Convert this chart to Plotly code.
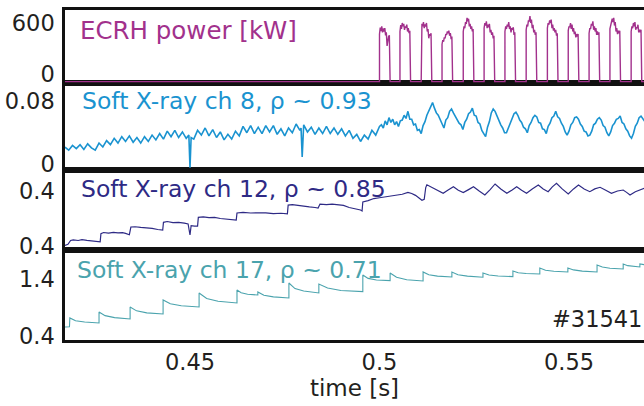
import plotly.graph_objects as go

# ---------------- data (time in seconds) ----------------
ecrh_t = [0.4170,
          .5000, .5000, .5002, .5004, .5006, .5008, .5010, .5012, .5014, .5016, .5018, .5020, .5022, .5024, .5026, .5028,
          .5054, .5054, .5056, .5058, .5060, .5062, .5064, .5066, .5068, .5070, .5072, .5074, .5076, .5078, .5080, .5082,
          .5110, .5110, .5112, .5114, .5116, .5118, .5120, .5122, .5124, .5126, .5128, .5130, .5132, .5134, .5136, .5138,
          .5165, .5165, .5167, .5169, .5171, .5173, .5175, .5177, .5179, .5181, .5183, .5185, .5187, .5189, .5191, .5193,
          .5221, .5221, .5223, .5225, .5227, .5229, .5231, .5233, .5235, .5237, .5239, .5241, .5243, .5245, .5247, .5249,
          .5276, .5276, .5278, .5280, .5282, .5284, .5286, .5288, .5290, .5292, .5294, .5296, .5298, .5300, .5302, .5304,
          .5331, .5331, .5333, .5335, .5337, .5339, .5341, .5343, .5345, .5347, .5349, .5351, .5353, .5355, .5357, .5359,
          .5387, .5387, .5389, .5391, .5393, .5395, .5397, .5399, .5401, .5403, .5405, .5407, .5409, .5411, .5413, .5415,
          .5443, .5443, .5445, .5447, .5449, .5451, .5453, .5455, .5457, .5459, .5461, .5463, .5465, .5467, .5469, .5471,
          .5498, .5498, .5500, .5502, .5504, .5506, .5508, .5510, .5512, .5514, .5516, .5518, .5520, .5522, .5524, .5526,
          .5553, .5553, .5555, .5557, .5559, .5561, .5563, .5565, .5567, .5569, .5571, .5573, .5575, .5577, .5579, .5581,
          .5608, .5608, .5610, .5612, .5614, .5616, .5618, .5620, .5622, .5624, .5626, .5628, .5630, .5632, .5634, .5636,
          .5664, .5664, .5666, .5668, .5670, .5672, .5674, .5676, .5678, .5680, .5682, .5684, .5686, .5688, .5690, .5692,
          0.5700]
ecrh_kw = [-90,
           -90, 470, 545, 505, 560, 490, 535, 500, 540, 455, 490, 330, 410, 440, 455, -90,
           -90, 500, 575, 530, 600, 560, 590, 520, 560, 545, 580, 500, 540, 480, 510, -90,
           -90, 520, 590, 560, 610, 540, 585, 560, 600, 500, 530, 420, 470, 450, 480, -90,
           -90, 350, 400, 380, 430, 420, 470, 460, 500, 480, 510, 450, 480, 410, 440, -90,
           -90, 500, 560, 540, 610, 590, 660, 620, 650, 560, 590, 530, 560, 500, 530, -90,
           -90, 540, 600, 570, 620, 540, 580, 550, 590, 490, 520, 460, 490, 420, 450, -90,
           -90, 500, 560, 530, 580, 560, 610, 530, 560, 490, 540, 520, 550, 460, 490, -90,
           -90, 520, 580, 560, 630, 620, 680, 600, 640, 540, 580, 490, 520, 460, 490, -90,
           -90, 540, 600, 580, 630, 600, 640, 540, 580, 510, 540, 490, 520, 450, 480, -90,
           -90, 510, 560, 550, 600, 530, 580, 500, 540, 470, 500, 430, 470, 440, 470, -90,
           -90, 480, 540, 530, 590, 570, 620, 520, 560, 500, 540, 460, 500, 460, 490, -90,
           -90, 530, 590, 590, 650, 610, 660, 570, 610, 500, 540, 470, 510, 480, 510, -90,
           -90, 500, 560, 540, 600, 560, 610, 520, 550, 540, 580, 490, 520, 490, 520, -90,
           -90]

ch8_t_ms = [417, 418, 419, 420, 421, 422, 423, 424, 425, 426, 427, 428, 429, 430, 431, 432,
            433, 434, 435, 436, 437, 438, 439, 440, 441, 442, 443, 444, 445, 446, 447, 448,
            449, 449.7, 450, 450.3, 451, 452, 453, 454, 455, 456, 457, 458, 459, 460, 461,
            462, 463, 464, 465, 466, 467, 468, 469, 470, 471, 472, 473, 474, 475, 476, 477,
            478, 479, 479.3, 479.6, 479.9, 480, 481, 482, 483, 484, 485, 486, 487, 488, 489,
            490, 491, 492, 493, 494, 495, 496, 497, 498, 499, 500,
            500.5, 501, 501.5, 502, 502.5, 503, 503.5, 504, 504.5, 505, 505.5, 506, 506.5,
            507, 507.5, 508, 508.5, 509, 509.5, 510, 510.5, 511, 511.5, 512, 512.5, 513,
            513.5, 514, 514.5, 515, 515.5, 516, 516.5, 517, 517.5, 518, 518.5, 519, 519.5,
            520, 520.5, 521, 521.5, 522, 522.5, 523, 523.5, 524, 524.5, 525, 525.5, 526,
            526.5, 527, 527.5, 528, 528.5, 529, 529.5, 530, 530.5, 531, 531.5, 532, 532.5,
            533, 533.5, 534, 534.5, 535, 535.5, 536, 536.5, 537, 537.5, 538, 538.5, 539,
            539.5, 540, 540.5, 541, 541.5, 542, 542.5, 543, 543.5, 544, 544.5, 545, 545.5,
            546, 546.5, 547, 547.5, 548, 548.5, 549, 549.5, 550, 550.5, 551, 551.5, 552,
            552.5, 553, 553.5, 554, 554.5, 555, 555.5, 556, 556.5, 557, 557.5, 558, 558.5,
            559, 559.5, 560, 560.5, 561, 561.5, 562, 562.5, 563, 563.5, 564, 564.5, 565,
            565.5, 566, 566.5, 567, 567.5, 568, 568.5, 569, 569.5, 570]
ch8_sig = [.022, .018, .024, .020, .025, .019, .026, .021, .018, .027, .022, .030, .025, .033, .027, .035,
           .029, .036, .028, .034, .027, .035, .029, .037, .031, .039, .032, .042, .035, .043, .034, .041,
           .033, .037, -.004, .034, .032, .043, .037, .046, .036, .044, .034, .041, .031, .038, .032,
           .042, .036, .048, .040, .049, .039, .047, .039, .049, .041, .049, .038, .045, .036, .046, .040,
           .051, .043, .046, .0095, .044, .050, .041, .047, .038, .046, .039, .048, .039, .046, .038,
           .045, .036, .043, .033, .038, .029, .037, .032, .043, .037, .048,
           .050, .046, .055, .050, .059, .053, .057, .050, .054, .048, .055, .056, .062,
           .058, .067, .057, .057, .050, .051, .043, .044, .039, .049, .054, .062, .067,
           .073, .078, .071, .065, .062, .057, .052, .046, .056, .059, .067, .070, .065,
           .061, .057, .052, .050, .044, .053, .057, .064, .066, .071, .062, .061, .053,
           .051, .043, .039, .035, .047, .054, .065, .070, .067, .061, .057, .050, .046,
           .040, .040, .046, .053, .058, .064, .066, .062, .056, .053, .047, .045, .040,
           .049, .053, .059, .062, .060, .053, .052, .045, .044, .039, .048, .052, .059,
           .061, .067, .060, .058, .052, .048, .041, .037, .042, .050, .053, .059, .060,
           .057, .051, .048, .042, .041, .036, .037, .042, .050, .052, .057, .059, .056,
           .049, .047, .040, .036, .041, .049, .052, .057, .058, .061, .053, .051, .045,
           .042, .036, .033, .039, .048, .052, .059, .061, .058, .054]

ch12_t = [0.4170, 0.4178, 0.4185, 0.4192, 0.4205, 0.4215, 0.4228, 0.4240, 0.4250, 0.4258, 0.4263,
          0.4265, 0.4272, 0.4285, 0.4298, 0.4310, 0.4322, 0.4330, 0.4340, 0.4344,
          0.4355, 0.4370, 0.4385, 0.4400, 0.4415, 0.4428, 0.4430, 0.4440, 0.4455, 0.4470,
          0.4485, 0.4495, 0.4500, 0.4503, 0.4512, 0.4520, 0.4522, 0.4535, 0.4550, 0.4565,
          0.4580, 0.4595, 0.4606, 0.4622, 0.4624, 0.4640, 0.4660, 0.4680, 0.4700, 0.4720,
          0.4740, 0.4757, 0.4759, 0.4770, 0.4785, 0.4800, 0.4815, 0.4830, 0.4838, 0.4843,
          0.4860, 0.4875, 0.4890, 0.4905, 0.4920, 0.4935, 0.4950, 0.4954, 0.4956, 0.4970,
          0.4985, 0.5000, 0.5015, 0.5030, 0.5045, 0.5060, 0.5075, 0.5085, 0.5095, 0.5105,
          0.5112, 0.5118, 0.5122, 0.5125, 0.5140, 0.5155, 0.5168, 0.5180, 0.5195, 0.5208,
          0.5221, 0.5235, 0.5248, 0.5263, 0.5278, 0.5292, 0.5305, 0.5320, 0.5336, 0.5350,
          0.5362, 0.5375, 0.5388, 0.5403, 0.5419, 0.5432, 0.5445, 0.5456, 0.5467, 0.5482,
          0.5498, 0.5512, 0.5525, 0.5540, 0.5555, 0.5568, 0.5582, 0.5597, 0.5612, 0.5628,
          0.5643, 0.5652, 0.5661, 0.5675, 0.5687, 0.5700]
ch12_sig = [0.405, 0.412, 0.440, 0.445, 0.440, 0.446, 0.441, 0.438, 0.430, 0.428, 0.430,
            0.490, 0.498, 0.494, 0.499, 0.495, 0.497, 0.492, 0.482, 0.538,
            0.540, 0.535, 0.532, 0.528, 0.520, 0.516, 0.572, 0.578, 0.570, 0.572,
            0.566, 0.560, 0.480, 0.548, 0.545, 0.545, 0.608, 0.612, 0.606, 0.608,
            0.600, 0.596, 0.590, 0.588, 0.640, 0.645, 0.640, 0.643, 0.641, 0.636,
            0.638, 0.634, 0.697, 0.701, 0.694, 0.690, 0.684, 0.680, 0.676, 0.705,
            0.701, 0.704, 0.698, 0.695, 0.680, 0.672, 0.662, 0.655, 0.720, 0.730,
            0.745, 0.751, 0.758, 0.763, 0.770, 0.776, 0.790, 0.782, 0.768, 0.745,
            0.733, 0.740, 0.825, 0.845, 0.825, 0.800, 0.783, 0.805, 0.831, 0.805,
            0.788, 0.810, 0.831, 0.800, 0.771, 0.810, 0.851, 0.815, 0.783, 0.808,
            0.831, 0.805, 0.783, 0.815, 0.843, 0.815, 0.795, 0.830, 0.856, 0.815,
            0.778, 0.815, 0.843, 0.815, 0.795, 0.815, 0.827, 0.805, 0.783, 0.800,
            0.807, 0.790, 0.771, 0.795, 0.807, 0.822]

ch17_t = [0.4170, 0.4182, 0.4183, 0.4198, 0.4222, 0.4260, 0.4260, 0.4276, 0.4301, 0.4342,
          0.4342, 0.4359, 0.4386, 0.4429, 0.4429, 0.4448, 0.4477, 0.4524, 0.4524, 0.4544,
          0.4574, 0.4624, 0.4624, 0.4635, 0.4652, 0.4679, 0.4679, 0.4695, 0.4720, 0.4761,
          0.4761, 0.4777, 0.4800, 0.4840, 0.4840, 0.4863, 0.4898, 0.4956, 0.4956, 0.4970,
          0.4992, 0.5028, 0.5028, 0.5045, 0.5072, 0.5115, 0.5115, 0.5130, 0.5153, 0.5191,
          0.5191, 0.5207, 0.5232, 0.5273, 0.5273, 0.5289, 0.5313, 0.5352, 0.5352, 0.5366,
          0.5387, 0.5423, 0.5423, 0.5438, 0.5460, 0.5497, 0.5497, 0.5512, 0.5535, 0.5574,
          0.5574, 0.5588, 0.5608, 0.5643, 0.5643, 0.5655, 0.5687, 0.5687, 0.5700]
ch17_sig = [0.559, 0.562, 0.719, 0.670, 0.648, 0.630, 0.825, 0.760, 0.725, 0.701,
            0.913, 0.845, 0.810, 0.789, 1.037, 0.970, 0.935, 0.913, 1.161, 1.065,
            1.015, 0.984, 1.214, 1.165, 1.140, 1.126, 1.179, 1.120, 1.092, 1.073,
            1.338, 1.240, 1.195, 1.161, 1.320, 1.250, 1.205, 1.185, 1.480, 1.420,
            1.390, 1.380, 1.515, 1.440, 1.395, 1.374, 1.533, 1.485, 1.460, 1.444,
            1.533, 1.485, 1.460, 1.440, 1.515, 1.480, 1.462, 1.452, 1.551, 1.520,
            1.505, 1.497, 1.604, 1.565, 1.545, 1.533, 1.604, 1.570, 1.548, 1.533,
            1.657, 1.620, 1.600, 1.586, 1.674, 1.645, 1.621, 1.674, 1.660]

x_ticks = [0.45, 0.5, 0.55]
x_ticktext = ["0.45", "0.5", "0.55"]
ecrh_ticks = [0, 600]
ch8_ticks = [0, 0.08]
ch12_ticks = [0.4, 0.8]
ch12_ticktext = ["0.4", "0.4"]
ch17_ticks = [0.4, 1.4]

# ---------------- figure ----------------
FONT = "DejaVu Sans"
INK = "#231f20"
C_ECRH = "#a2318c"
C_CH8 = "#1a93d0"
C_CH12 = "#2e2a85"
C_CH17 = "#4aa3ad"

fig = go.Figure()
fig.add_trace(go.Scatter(x=ecrh_t, y=ecrh_kw, mode="lines", line=dict(color=C_ECRH, width=1.4),
                         xaxis="x4", yaxis="y4", hoverinfo="skip"))
fig.add_trace(go.Scatter(x=[t / 1000 for t in ch8_t_ms], y=ch8_sig, mode="lines",
                         line=dict(color=C_CH8, width=1.6), xaxis="x3", yaxis="y3", hoverinfo="skip"))
fig.add_trace(go.Scatter(x=ch12_t, y=ch12_sig, mode="lines", line=dict(color=C_CH12, width=1.2),
                         xaxis="x2", yaxis="y2", hoverinfo="skip"))
fig.add_trace(go.Scatter(x=ch17_t, y=ch17_sig, mode="lines", line=dict(color=C_CH17, width=1.1),
                         xaxis="x", yaxis="y", hoverinfo="skip"))

XR = [0.41702, 0.56979]
tickfont = dict(family=FONT, size=22.5, color=INK)
axline = dict(showline=True, linecolor="#111111", linewidth=2.5, showgrid=False, zeroline=False,
              ticks="", automargin=False)


def xax(anchor, show):
    d = dict(axline, range=XR, anchor=anchor, mirror=True, domain=[0, 1])
    if show:
        d.update(tickvals=x_ticks, ticktext=x_ticktext, tickfont=tickfont,
                 title=dict(text="time [s]", font=dict(family=FONT, size=23, color=INK), standoff=6))
    else:
        d.update(showticklabels=False, matches="x")
    return d


def yax(anchor, dom, rng, tv, tt=None):
    d = dict(axline, range=rng, anchor=anchor, domain=dom, tickvals=tv, tickfont=tickfont,
             ticklabelstandoff=3)
    if tt is not None:
        d["ticktext"] = tt
    return d


fig.update_layout(
    width=644, height=406,
    margin=dict(l=65, r=0, t=10, b=66),
    paper_bgcolor="white", plot_bgcolor="white",
    showlegend=False,
    xaxis=xax("y", True),
    xaxis2=xax("y2", False),
    xaxis3=xax("y3", False),
    xaxis4=xax("y4", False),
    yaxis=yax("x", [0, 0.2727], [0.329, 1.922], ch17_ticks),
    yaxis2=yax("x2", [0.2727, 0.5152], [0.3709, 0.9527], ch12_ticks, ch12_ticktext),
    yaxis3=yax("x3", [0.5152, 0.7788], [-0.00693, 0.10268], ch8_ticks),
    yaxis4=yax("x4", [0.7788, 1.0], [-106, 753], ecrh_ticks),
)


def label(text, x, y, color, size=23.5, xanchor="left"):
    fig.add_annotation(text=text, xref="paper", yref="paper", x=x, y=y, xanchor=xanchor,
                       yanchor="middle", showarrow=False, font=dict(family=FONT, size=size, color=color))


label("ECRH power [kW]", 0.0225, 0.939, C_ECRH, size=24.5)
label("Soft X-ray ch 8, ρ ~ 0.93", 0.026, 0.724, C_CH8)
label("Soft X-ray ch 12, ρ ~ 0.85", 0.0235, 0.458, C_CH12)
label("Soft X-ray ch 17, ρ ~ 0.71", 0.017, 0.213, C_CH17)
label("#31541", 1.0, 0.0636, INK, size=22.5, xanchor="right")

fig.write_html("out.html", config={"displayModeBar": False},
               post_script="document.body.style.margin='0';")
